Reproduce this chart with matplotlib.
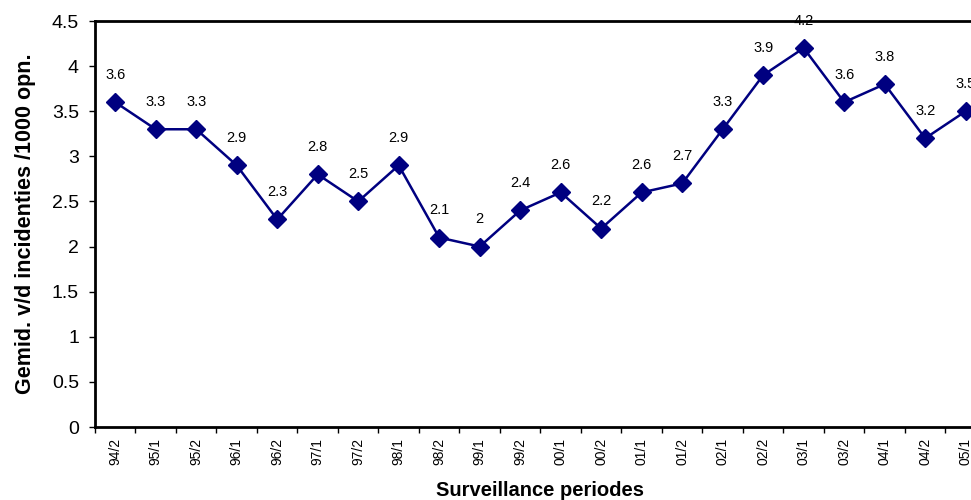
import matplotlib.pyplot as plt
import numpy as np

plt.rcParams['font.family'] = ['Liberation Sans', 'DejaVu Sans']

periods = ['94/2', '95/1', '95/2', '96/1', '96/2', '97/1', '97/2', '98/1', '98/2',
           '99/1', '99/2', '00/1', '00/2', '01/1', '01/2', '02/1', '02/2', '03/1',
           '03/2', '04/1', '04/2', '05/1']
incidences = [3.6, 3.3, 3.3, 2.9, 2.3, 2.8, 2.5, 2.9, 2.1, 2, 2.4, 2.6, 2.2, 2.6,
              2.7, 3.3, 3.9, 4.2, 3.6, 3.8, 3.2, 3.5]
yticks = [0, 0.5, 1, 1.5, 2, 2.5, 3, 3.5, 4, 4.5]

fig = plt.figure(figsize=(9.71, 5.0), dpi=100)
# axes runs past the right edge of the figure, like the clipped original
ax = fig.add_axes([0.0978, 0.146, 0.9176, 0.812])

x = np.arange(len(periods))
ax.plot(x, incidences, color='#000080', lw=1.8, marker='D', ms=9, zorder=3,
        clip_on=False)
for xi, v in zip(x, incidences):
    ax.annotate(f'{v:g}', (xi, v), xytext=(0, 19.5), textcoords='offset points',
                ha='center', va='center', fontsize=10.5, annotation_clip=False,
                zorder=4)

ax.set_xlim(-0.5, len(periods) - 0.5)
ax.set_ylim(0, 4.5)
ax.set_yticks(yticks)
ax.set_yticklabels([f'{t:g}' for t in yticks], fontsize=14)

# ticks at bin boundaries, labels at category centres
ax.set_xticks(np.arange(len(periods) + 1) - 0.5)
ax.set_xticklabels([])
ax.set_xticks(x, minor=True)
ax.set_xticklabels(periods, minor=True, rotation=90, fontsize=10)
ax.tick_params(axis='x', which='minor', length=0, pad=8)
ax.tick_params(axis='both', which='major', direction='out', length=4.5, width=1)
ax.tick_params(axis='y', pad=7)

for s in ax.spines.values():
    s.set_linewidth(2)

ax.set_xlabel('Surveillance periodes', fontsize=14.5, fontweight='bold', labelpad=11)
ax.set_ylabel('Gemid. v/d incidenties /1000 opn.', fontsize=15.5, fontweight='bold')
ax.yaxis.set_label_coords(-0.066, 0.5)

fig.savefig('out.png', dpi=100)
